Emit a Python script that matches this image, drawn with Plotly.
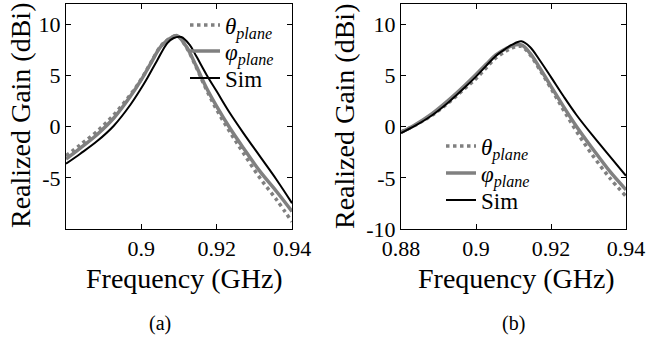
import plotly.graph_objects as go

# ---- data (a) ----
f_sim_a = [0.880, 0.8838, 0.8882, 0.8927, 0.8971, 0.900, 0.9016, 0.9043, 0.9069, 0.9085,
           0.9106, 0.9128, 0.9146, 0.9173, 0.920, 0.9235, 0.9271, 0.9315, 0.9359, 0.940]
sim_a = [-3.62, -2.64, -1.43, 0.1, 2.15, 3.78, 4.76, 6.55, 8.18, 8.65,
         8.77, 8.02, 6.88, 5.09, 3.46, 1.34, -0.62, -2.9, -5.18, -7.47]
f_meas_a = [0.880, 0.8838, 0.8882, 0.8927, 0.8971, 0.900, 0.9025, 0.9052, 0.9078, 0.9095,
            0.9119, 0.9146, 0.9173, 0.920, 0.9235, 0.9271, 0.9315, 0.9359, 0.940]
phi_a = [-3.16, -2.09, -0.78, 0.85, 2.97, 4.6, 6.2, 7.86, 8.67, 8.9,
         7.86, 5.9, 3.78, 1.99, -0.13, -2.09, -4.37, -6.33, -8.28]
theta_a = [-2.84, -1.76, -0.46, 1.17, 3.13, 4.66, 6.25, 7.9, 8.7, 8.9,
           7.8, 5.8, 3.6, 1.66, -0.5, -2.58, -5.02, -7.14, -9.3]

# ---- data (b) ----
f_b = [0.880, 0.8838, 0.8882, 0.8927, 0.8972, 0.900, 0.9027, 0.9052, 0.9078, 0.9095,
       0.9121, 0.9144, 0.917, 0.920, 0.9233, 0.9268, 0.9313, 0.9357, 0.940]
sim_b = [-0.62, 0.1, 1.1, 2.4, 3.9, 4.9, 5.95, 6.9, 7.6, 8.0,
         8.35, 7.8, 6.5, 4.85, 3.0, 1.15, -0.95, -2.9, -4.8]
phi_b = [-0.55, 0.2, 1.25, 2.6, 4.1, 5.1, 6.1, 7.0, 7.6, 7.9,
         8.0, 7.2, 5.74, 3.95, 1.99, 0.03, -2.25, -4.37, -6.16]
theta_b = [-0.5, 0.15, 1.1, 2.35, 3.8, 4.7, 5.75, 6.7, 7.35, 7.7,
           7.85, 7.04, 5.58, 3.75, 1.66, -0.46, -2.9, -5.02, -6.8]

xtick_a = [0.9, 0.92, 0.94]
xtext_a = ["0.9", "0.92", "0.94"]
ytick_a = [-5, 0, 5, 10]
ytext_a = ["-5", "0", "5", "10"]
xtick_b = [0.88, 0.9, 0.92, 0.94]
xtext_b = ["0.88", "0.9", "0.92", "0.94"]
ytick_b = [-10, -5, 0, 5, 10]
ytext_b = ["-10", "-5", "0", "5", "10"]

x_title = "Frequency (GHz)"
y_title = "Realized Gain (dBi)"
panel_labels = ["(a)", "(b)"]
names = ["<i>θ</i><sub><i>plane</i></sub>", "<i>φ</i><sub><i>plane</i></sub>", "Sim"]
GRAY = "#808080"
FONT = "Liberation Serif, Times New Roman, serif"

fig = go.Figure()

def add_set(f_meas, th, ph, f_sim, sm, xa, ya, legs):
    fig.add_trace(go.Scatter(x=f_meas, y=th, mode="lines", name=names[0],
                             line=dict(color=GRAY, width=3.5, dash="dot", shape="spline", smoothing=1.0),
                             xaxis=xa, yaxis=ya, legend=legs[0]))
    fig.add_trace(go.Scatter(x=f_meas, y=ph, mode="lines", name=names[1],
                             line=dict(color=GRAY, width=3.5, shape="spline", smoothing=1.0),
                             xaxis=xa, yaxis=ya, legend=legs[1]))
    fig.add_trace(go.Scatter(x=f_sim, y=sm, mode="lines", name=names[2],
                             line=dict(color="black", width=2, shape="spline", smoothing=1.0),
                             xaxis=xa, yaxis=ya, legend=legs[2]))

add_set(f_meas_a, theta_a, phi_a, f_sim_a, sim_a, "x", "y", ["legend", "legend2", "legend3"])
add_set(f_b, theta_b, phi_b, f_b, sim_b, "x2", "y2", ["legend4", "legend5", "legend6"])

W, H = 646, 338
ydom = [1 - 229 / H, 1 - 4 / H]

axis_common = dict(showline=True, linecolor="black", linewidth=1, mirror="allticks",
                   ticks="inside", ticklen=5, tickwidth=1, tickcolor="black",
                   showgrid=False, zeroline=False, automargin=False,
                   ticklabeloverflow="allow",
                   tickfont=dict(family=FONT, size=22, color="black"))

def leg(xpx, ypx):
    return dict(x=xpx / W, y=1 - ypx / H, xanchor="left", yanchor="middle",
                bgcolor="rgba(0,0,0,0)", font=dict(family=FONT, size=23, color="black"))

def txt(text, xpx, ypx, size, angle=0):
    return dict(text=text, x=xpx / W, y=1 - ypx / H, xref="paper", yref="paper",
                xanchor="center", yanchor="middle", textangle=angle,
                showarrow=False, font=dict(family=FONT, size=size, color="black"))

fig.update_layout(
    width=W, height=H, margin=dict(l=0, r=0, t=0, b=0, autoexpand=False),
    paper_bgcolor="white", plot_bgcolor="white",
    xaxis=dict(domain=[66 / W, 292 / W], range=[0.88, 0.94], anchor="y",
               tickmode="array", tickvals=xtick_a, ticktext=xtext_a, **axis_common),
    yaxis=dict(domain=ydom, range=[-10, 12], anchor="x",
               tickmode="array", tickvals=ytick_a, ticktext=ytext_a, **axis_common),
    xaxis2=dict(domain=[401 / W, 626 / W], range=[0.88, 0.94], anchor="y2",
                tickmode="array", tickvals=xtick_b, ticktext=xtext_b, **axis_common),
    yaxis2=dict(domain=ydom, range=[-10, 12], anchor="x2",
                tickmode="array", tickvals=ytick_b, ticktext=ytext_b, **axis_common),
    legend=leg(185, 25), legend2=leg(185, 51), legend3=leg(185, 78),
    legend4=leg(441, 146), legend5=leg(441, 173), legend6=leg(441, 200),
    showlegend=True,
    annotations=[
        txt(y_title, 21, 116, 28, -90),
        txt(y_title, 345, 116, 28, -90),
        txt(x_title, 184, 278, 28),
        txt(x_title, 516, 278, 28),
        txt(panel_labels[0], 160, 323, 20),
        txt(panel_labels[1], 513, 323, 20),
    ],
)

fig.write_html("out.html")
